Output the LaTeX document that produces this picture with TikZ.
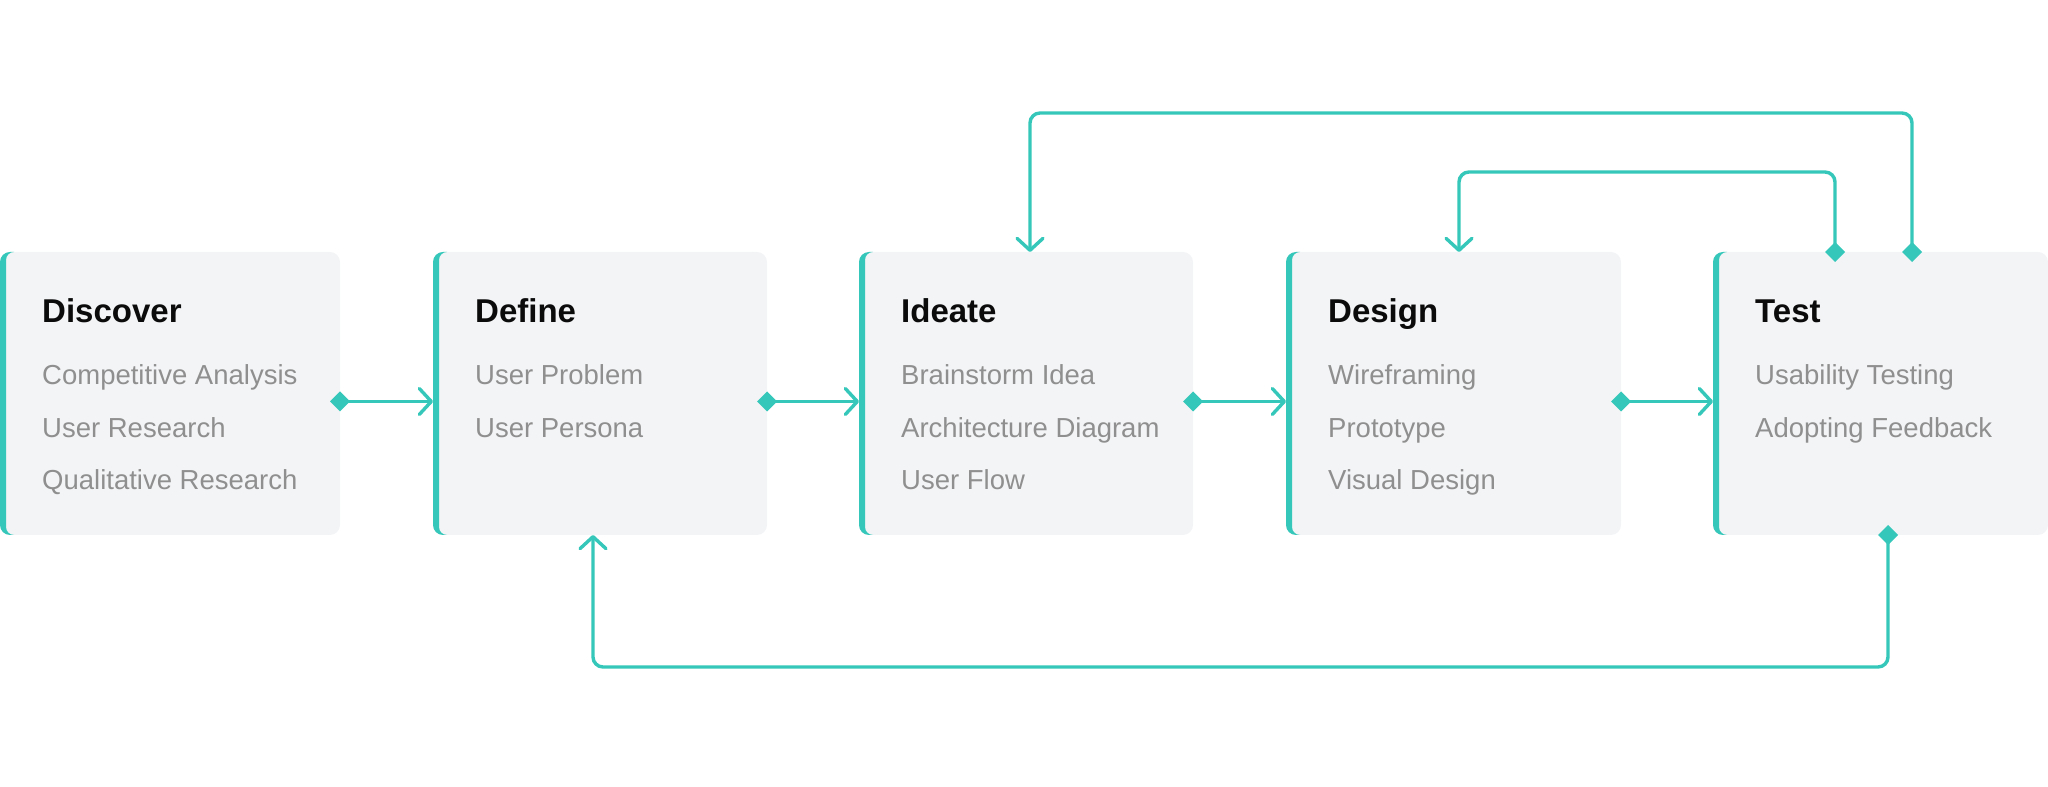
\documentclass[tikz,border=0pt]{standalone}
\usepackage{fontspec}
\setmainfont{Liberation Sans}
\usetikzlibrary{arrows.meta,calc}
\definecolor{teal}{HTML}{35C7B9}
\definecolor{boxgray}{HTML}{F3F4F6}
\definecolor{itemgray}{HTML}{8F8F8F}
\definecolor{titleblack}{HTML}{0B0B0B}
\begin{document}
\begin{tikzpicture}[x=1pt,y=1pt,
  stagebox/.style={rectangle, fill=boxgray, rounded corners=10pt, inner sep=0pt, outer sep=0pt, minimum height=283pt, anchor=south west},
  stagetitle/.style={anchor=base west, inner sep=0pt, text=titleblack, font=\fontsize{33}{40}\selectfont\bfseries},
  stageitem/.style={anchor=base west, inner sep=0pt, text=itemgray, font=\fontsize{27.5}{32}\selectfont},
  conn/.style={draw=teal, line width=3.4pt, rounded corners=10pt,
    {Diamond[length=20pt,width=20pt]}-{Straight Barb[length=12pt,width=26pt,round]}}
]
\useasboundingbox (0,0) rectangle (2048,787);

\node[stagebox, minimum width=340pt] (b1) at (0,252) {};
\node[stagebox, minimum width=334pt] (b2) at (433,252) {};
\node[stagebox, minimum width=334pt] (b3) at (859,252) {};
\node[stagebox, minimum width=335pt] (b4) at (1286,252) {};
\node[stagebox, minimum width=335pt] (b5) at (1713,252) {};

\foreach \b in {b1,b2,b3,b4,b5}{
  \fill[teal] ($(\b.north west)+(10,0)$) arc[start angle=90,end angle=180,radius=10pt]
    -- ($(\b.south west)+(0,10)$) arc[start angle=180,end angle=270,radius=10pt]
    -- ($(\b.south west)+(14,0)$) arc[start angle=270,end angle=180,radius=8pt]
    -- ($(\b.north west)+(6,-8)$) arc[start angle=180,end angle=90,radius=8pt]
    -- cycle;
}

% titles and items
\node[stagetitle] (t1) at ($(b1.north west)+(42,-71)$) {Discover};
\node[stageitem] (i11) at ($(b1.north west)+(42,-133)$) {Competitive Analysis};
\node[stageitem] (i12) at ($(b1.north west)+(42,-185.5)$) {User Research};
\node[stageitem] (i13) at ($(b1.north west)+(42,-238)$) {Qualitative Research};

\node[stagetitle] (t2) at ($(b2.north west)+(42,-71)$) {Define};
\node[stageitem] (i21) at ($(b2.north west)+(42,-133)$) {User Problem};
\node[stageitem] (i22) at ($(b2.north west)+(42,-185.5)$) {User Persona};

\node[stagetitle] (t3) at ($(b3.north west)+(42,-71)$) {Ideate};
\node[stageitem] (i31) at ($(b3.north west)+(42,-133)$) {Brainstorm Idea};
\node[stageitem] (i32) at ($(b3.north west)+(42,-185.5)$) {Architecture Diagram};
\node[stageitem] (i33) at ($(b3.north west)+(42,-238)$) {User Flow};

\node[stagetitle] (t4) at ($(b4.north west)+(42,-71)$) {Design};
\node[stageitem] (i41) at ($(b4.north west)+(42,-133)$) {Wireframing};
\node[stageitem] (i42) at ($(b4.north west)+(42,-185.5)$) {Prototype};
\node[stageitem] (i43) at ($(b4.north west)+(42,-238)$) {Visual Design};

\node[stagetitle] (t5) at ($(b5.north west)+(42,-71)$) {Test};
\node[stageitem] (i51) at ($(b5.north west)+(42,-133)$) {Usability Testing};
\node[stageitem] (i52) at ($(b5.north west)+(42,-185.5)$) {Adopting Feedback};

% forward connectors
\draw[conn] ([xshift=-10pt,yshift=-8pt]b1.east) -- ([yshift=-8pt]b2.west);
\draw[conn] ([xshift=-10pt,yshift=-8pt]b2.east) -- ([yshift=-8pt]b3.west);
\draw[conn] ([xshift=-10pt,yshift=-8pt]b3.east) -- ([yshift=-8pt]b4.west);
\draw[conn] ([xshift=-10pt,yshift=-8pt]b4.east) -- ([yshift=-8pt]b5.west);

% feedback loops
\draw[conn] ([xshift=199pt,yshift=-10pt]b5.north west) -- ++(0,149) -| ([xshift=171pt]b3.north west);
\draw[conn] ([xshift=122pt,yshift=-10pt]b5.north west) -- ++(0,90) -| ([xshift=173pt]b4.north west);
\draw[conn] ([xshift=175pt,yshift=10pt]b5.south west) -- ++(0,-142) -| ([xshift=160pt]b2.south west);
\end{tikzpicture}
\end{document}
